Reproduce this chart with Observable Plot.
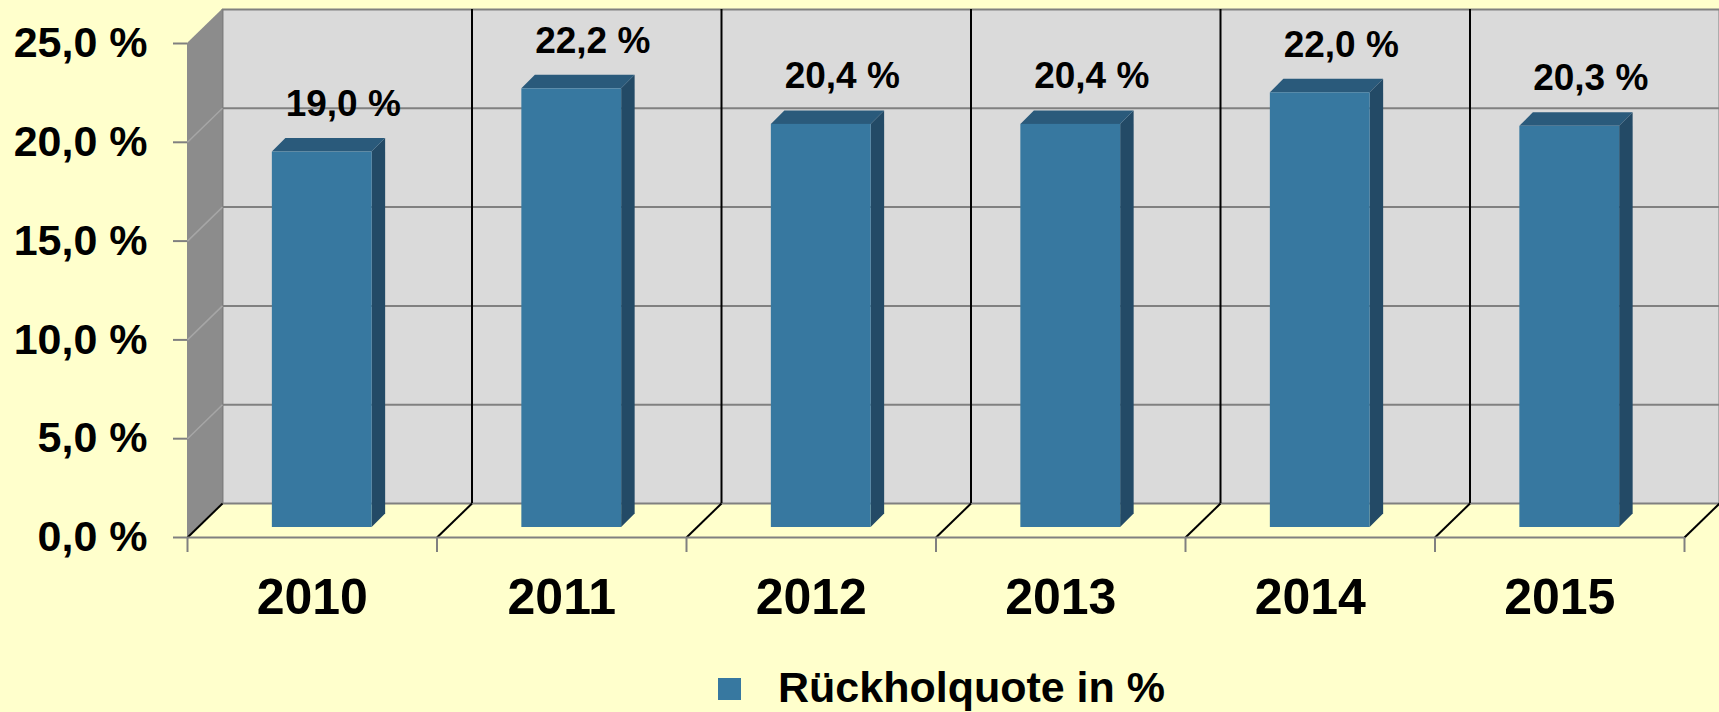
<!DOCTYPE html>
<html>
<head>
<meta charset="utf-8">
<script src="https://cdn.jsdelivr.net/npm/d3@7"></script>
<script src="https://cdn.jsdelivr.net/npm/@observablehq/plot@0.6"></script>
<style>
  html, body { margin: 0; padding: 0; background: #ffffcc; overflow: hidden; }
  body { width: 1719px; height: 712px; font-family: "Liberation Sans", Arial, sans-serif; font-weight: bold; }
  #chart svg { display: block; }
  #legend { position: relative; height: 62px; width: 1719px; }
  #legend .sw { position: absolute; left: 718px; top: 28px; width: 23px; height: 22px; background: #3778a0; }
  #legend .tx { position: absolute; left: 778px; top: 16px; font-size: 43px; line-height: 43px; color: #000; white-space: nowrap; }
</style>
</head>
<body>
<div id="chart"></div>
<div id="legend"><span class="sw"></span><span class="tx" id="legendText"></span></div>
<script>
// ---- data ----
const years = ["2010", "2011", "2012", "2013", "2014", "2015"];
const values = [19.0, 22.2, 20.4, 20.4, 22.0, 20.3];
const yTicks = [0, 5, 10, 15, 20, 25];
const seriesName = "Rückholquote in %";

// ---- layout / style ----
const W = 1719, H = 650;
const mL = 187, mR = 35, mT = 43, mB = 113;
const n = years.length;
const yMax = 25;
const kx = (W - mL - mR) / n;        // px per category
const ky = (H - mT - mB) / yMax;     // px per percent
const PX = p => p / kx, PY = p => p / ky;
const wallDX = 35, wallDY = 34;      // depth of the walls (px)
const fD = 10, bD = 23.5;            // bar front / back depth (px)
const barL = 0.3, barR = 0.7;

const fmt = d => d.toFixed(1).replace(".", ",") + " %";

const bars = years.map((yr, i) => ({year: yr, i, v: values[i]}));
const boundaries = d3.range(n + 1);

const sideFaces = bars.flatMap(b => [
  {year: b.year, x: b.i + barR + PX(fD), y1: PY(fD), y2: b.v + PY(fD)},
  {year: b.year, x: b.i + barR + PX(bD), y1: PY(bD), y2: b.v + PY(bD)}
]);
const topFaces = bars.flatMap(b => [
  {year: b.year, y: b.v + PY(fD), x1: b.i + barL + PX(fD), x2: b.i + barR + PX(fD)},
  {year: b.year, y: b.v + PY(bD), x1: b.i + barL + PX(bD), x2: b.i + barR + PX(bD)}
]);
const leftWall = [
  {x: 0, y1: 0, y2: yMax},
  {x: PX(wallDX), y1: PY(wallDY), y2: yMax + PY(wallDY)}
];

const chart = Plot.plot({
  width: W, height: H,
  marginLeft: mL, marginRight: mR, marginTop: mT, marginBottom: mB,
  style: {background: "transparent", fontFamily: "'Liberation Sans', Arial, sans-serif", fontWeight: "bold", color: "#000", overflow: "visible"},
  x: {type: "linear", domain: [0, n], axis: null},
  y: {type: "linear", domain: [0, yMax], axis: null},
  marks: [
    // back wall
    Plot.rect([0], {x1: 0, x2: n, y1: 0, y2: yMax, dx: wallDX, dy: -wallDY, fill: "#dadada"}),
    Plot.ruleY(yTicks, {x1: 0, x2: n, dx: wallDX, dy: -wallDY, stroke: "#808080", strokeWidth: 2}),
    Plot.ruleX(boundaries.slice(1, n), {y1: 0, y2: yMax, dx: wallDX, dy: -wallDY, stroke: "#000", strokeWidth: 2}),
    Plot.ruleX([0, n], {y1: 0, y2: yMax, dx: wallDX, dy: -wallDY, stroke: "#808080", strokeWidth: 2}),
    // left wall
    Plot.areaY(leftWall, {x: "x", y1: "y1", y2: "y2", fill: "#8c8c8c"}),
    Plot.link(yTicks.slice(1, -1), {x1: 0, y1: d => d, x2: PX(wallDX), y2: d => d + PY(wallDY), stroke: "#a6a6a6", strokeWidth: 1.5}),
    // floor diagonals
    Plot.link(boundaries, {x1: d => d, y1: 0, x2: d => d + PX(wallDX), y2: PY(wallDY), stroke: "#000", strokeWidth: 2}),
    // front axis line and ticks
    Plot.ruleY([0], {x1: 0, x2: n, stroke: "#808080", strokeWidth: 2}),
    Plot.ruleX(boundaries, {y1: 0, y2: -PY(15), stroke: "#808080", strokeWidth: 2}),
    Plot.ruleY(yTicks, {x1: -PX(14), x2: 0, stroke: "#808080", strokeWidth: 2}),
    // bars: side, top, front
    Plot.areaY(sideFaces, {x: "x", y1: "y1", y2: "y2", z: "year", fill: "#234a66"}),
    Plot.areaX(topFaces, {y: "y", x1: "x1", x2: "x2", z: "year", fill: "#2a5a7b"}),
    Plot.rect(bars, {x1: d => d.i + barL + PX(fD), x2: d => d.i + barR + PX(fD), y1: PY(fD), y2: d => d.v + PY(fD), fill: "#3778a0"}),
    // value labels
    Plot.text(bars, {x: d => d.i + 0.5, y: "v", text: d => fmt(d.v), dx: 31, dy: -58, fontSize: 37, fontWeight: "bold", fill: "#000"}),
    // category labels
    Plot.text(bars, {x: d => d.i + 0.5, y: 0, text: "year", dy: 60, fontSize: 50, fontWeight: "bold", fill: "#000"}),
    // y tick labels
    Plot.text(yTicks, {x: 0, y: d => d, text: fmt, dx: -40, textAnchor: "end", fontSize: 43, fontWeight: "bold", fill: "#000"})
  ]
});
document.getElementById("chart").appendChild(chart);
document.getElementById("legendText").textContent = seriesName;
</script>
</body>
</html>
